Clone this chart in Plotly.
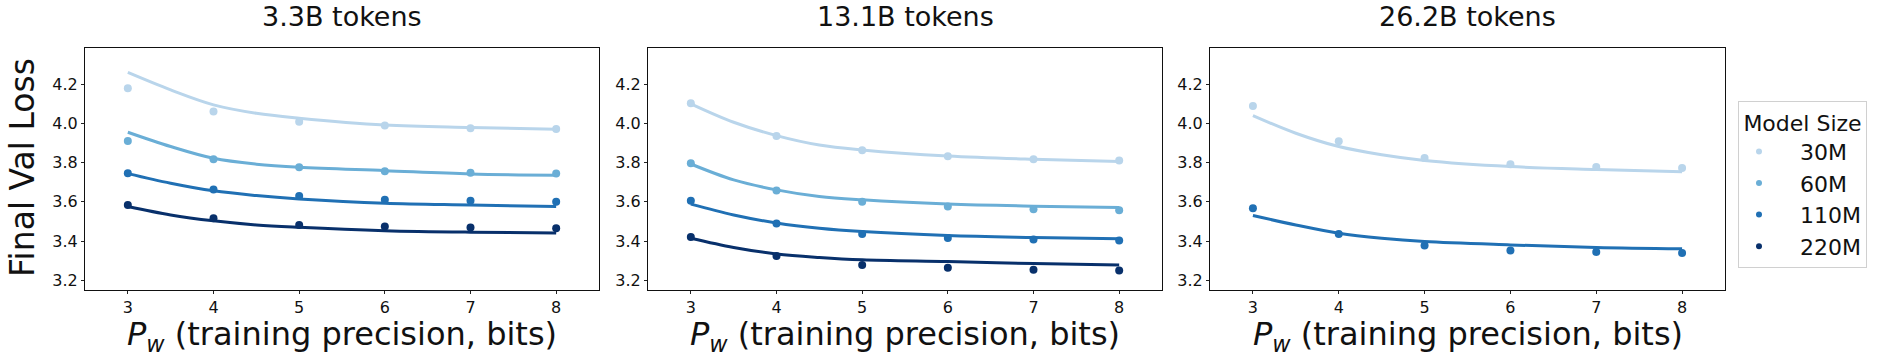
import plotly.graph_objects as go

# ---------------- data ----------------
panel_titles = ["3.3B tokens", "13.1B tokens", "26.2B tokens"]
model_sizes = ["30M", "60M", "110M", "220M"]
size_colors = ["#b9d5eb", "#6aaed6", "#2070b4", "#08306b"]

precision_bits = [3, 4, 5, 6, 7, 8]
fit_bits = [3, 3.5, 4, 4.5, 5, 6, 7, 8]

# observed losses
loss_3p3B = {
    "30M":  [4.180, 4.061, 4.008, 3.989, 3.976, 3.972],
    "60M":  [3.911, 3.817, 3.776, 3.756, 3.748, 3.744],
    "110M": [3.746, 3.663, 3.630, 3.610, 3.605, 3.600],
    "220M": [3.584, 3.516, 3.482, 3.474, 3.469, 3.465],
}
loss_13p1B = {
    "30M":  [4.103, 3.936, 3.863, 3.833, 3.817, 3.811],
    "60M":  [3.797, 3.658, 3.601, 3.576, 3.562, 3.557],
    "110M": [3.605, 3.489, 3.436, 3.416, 3.408, 3.402],
    "220M": [3.421, 3.324, 3.277, 3.263, 3.253, 3.250],
}
loss_26p2B = {
    "30M":  [4.089, 3.909, 3.824, 3.792, 3.778, 3.773],
    "110M": [3.567, 3.436, 3.377, 3.351, 3.344, 3.339],
}

# fitted curves, read at fit_bits
fit_3p3B = {
    "30M":  [4.260, 4.171, 4.095, 4.052, 4.027, 3.992, 3.979, 3.970],
    "60M":  [3.955, 3.882, 3.822, 3.792, 3.776, 3.759, 3.742, 3.736],
    "110M": [3.744, 3.695, 3.656, 3.632, 3.615, 3.593, 3.584, 3.576],
    "220M": [3.576, 3.533, 3.503, 3.482, 3.470, 3.453, 3.445, 3.441],
}
fit_13p1B = {
    "30M":  [4.100, 4.006, 3.938, 3.890, 3.865, 3.834, 3.817, 3.806],
    "60M":  [3.793, 3.712, 3.661, 3.627, 3.610, 3.589, 3.578, 3.571],
    "110M": [3.588, 3.533, 3.492, 3.465, 3.448, 3.428, 3.418, 3.411],
    "220M": [3.414, 3.367, 3.334, 3.316, 3.304, 3.295, 3.285, 3.278],
}
fit_26p2B = {
    "30M":  [4.040, 3.950, 3.882, 3.840, 3.811, 3.780, 3.765, 3.754],
    "110M": [3.530, 3.482, 3.440, 3.414, 3.397, 3.380, 3.367, 3.360],
}

x_ticks = [3, 4, 5, 6, 7, 8]
y_ticks = [3.2, 3.4, 3.6, 3.8, 4.0, 4.2]

# ---------------- layout constants ----------------
W, H = 1877, 358
FONT = "DejaVu Sans"
panels_px = [(85, 599), (648, 1162), (1210, 1725)]
top_px, bot_px = 48, 290

observed = [loss_3p3B, loss_13p1B, loss_26p2B]
fitted = [fit_3p3B, fit_13p1B, fit_26p2B]

fig = go.Figure()

for p in range(3):
    ax = "" if p == 0 else str(p + 1)
    for s, c in zip(model_sizes, size_colors):
        if s in fitted[p]:
            fig.add_trace(go.Scatter(
                x=fit_bits, y=fitted[p][s], mode="lines",
                line=dict(color=c, width=3, shape="spline"),
                xaxis="x" + ax, yaxis="y" + ax, showlegend=False, hoverinfo="skip"))
        if s in observed[p]:
            fig.add_trace(go.Scatter(
                x=precision_bits, y=observed[p][s], mode="markers",
                marker=dict(color=c, size=8, line=dict(width=0)),
                xaxis="x" + ax, yaxis="y" + ax, showlegend=False))

# legend-only entries (leading spaces push the label right, as in the reference)
for s, c in zip(model_sizes, size_colors):
    fig.add_trace(go.Scatter(
        x=[None], y=[None], mode="markers", name="\u00a0\u00a0\u00a0" + s,
        marker=dict(color=c, size=6), showlegend=True))

layout = dict(
    width=W, height=H,
    margin=dict(l=0, r=0, t=0, b=0),
    paper_bgcolor="white", plot_bgcolor="white",
    font=dict(family=FONT, color="#111111"),
    showlegend=True,
    legend=dict(
        x=1738 / W, y=1 - 101 / H, xanchor="left", yanchor="top",
        bordercolor="#d0d0d0", borderwidth=1, bgcolor="white",
        font=dict(family=FONT, size=22, color="#111111"),
        title=dict(text="Model Size", side="top center",
                   font=dict(family=FONT, size=22, color="#111111")),
        tracegroupgap=0,
    ),
)

annotations = []
for p, (l, r) in enumerate(panels_px):
    ax = "" if p == 0 else str(p + 1)
    layout["xaxis" + ax] = dict(
        domain=[l / W, r / W], anchor="y" + ax, range=[2.5, 8.5],
        tickvals=x_ticks, ticks="outside", ticklen=3, tickcolor="#222",
        tickfont=dict(family=FONT, size=16, color="#111"),
        showline=True, linecolor="#111", linewidth=1, mirror=True,
        showgrid=False, zeroline=False)
    layout["yaxis" + ax] = dict(
        domain=[1 - bot_px / H, 1 - top_px / H], anchor="x" + ax,
        range=[3.15, 4.385],
        tickvals=y_ticks, ticktext=[f"{v:.1f}" for v in y_ticks],
        ticks="outside", ticklen=3, tickcolor="#222",
        tickfont=dict(family=FONT, size=16, color="#111"),
        showline=True, linecolor="#111", linewidth=1, mirror=True,
        showgrid=False, zeroline=False)
    cx = (l + r) / 2 / W
    annotations.append(dict(
        text=panel_titles[p], x=cx, y=1 - 17 / H, xref="paper", yref="paper",
        xanchor="center", yanchor="middle", showarrow=False,
        font=dict(family=FONT, size=27, color="#111")))
    annotations.append(dict(
        text="<i>P</i><sub><i>w</i></sub> (training precision, bits)",
        x=cx, y=1 - 336 / H, xref="paper", yref="paper",
        xanchor="center", yanchor="middle", showarrow=False,
        font=dict(family=FONT, size=32, color="#111")))

annotations.append(dict(
    text="Final Val Loss", x=23 / W, y=1 - 168 / H, xref="paper", yref="paper",
    xanchor="center", yanchor="middle", showarrow=False, textangle=-90,
    font=dict(family=FONT, size=33, color="#111")))

layout["annotations"] = annotations
fig.update_layout(**layout)
fig.write_html("out.html")
